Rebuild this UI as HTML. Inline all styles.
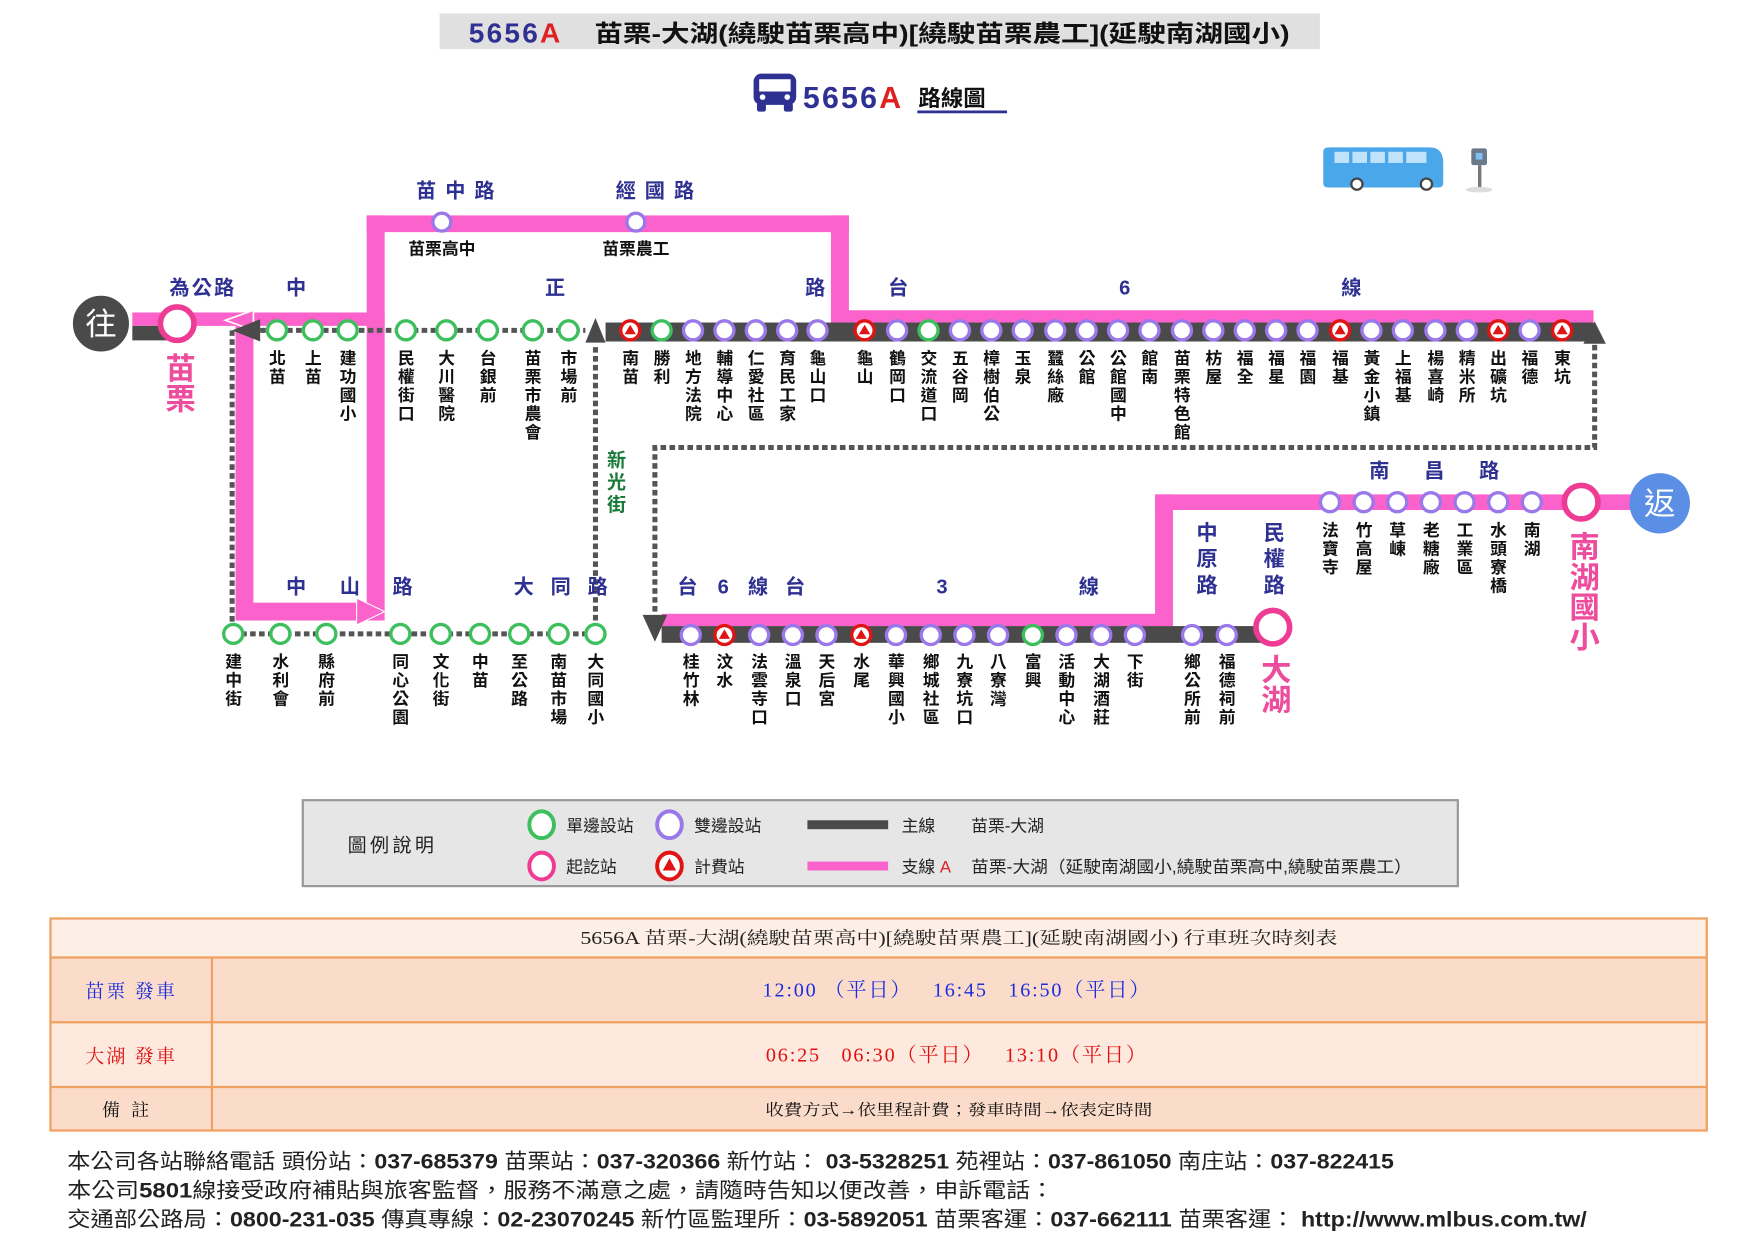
<!DOCTYPE html>
<html><head><meta charset="utf-8">
<style>
html,body{margin:0;padding:0;background:#fff;}
svg{display:block;}
text{font-family:"Liberation Sans","Noto Sans CJK TC",sans-serif;}
.v{writing-mode:vertical-rl;font-size:15px;letter-spacing:1.6px;fill:#111;font-weight:bold;}
.g{fill:#fff;stroke:#3cbf5c;stroke-width:3;}
.p{fill:#fff;stroke:#9a78ea;stroke-width:3;}
.t{fill:#fff;stroke:#e01414;stroke-width:3;}
.tr{fill:#e01414;}
.rd{fill:#2e3192;font-weight:bold;font-size:18px;text-anchor:middle;}
.big{writing-mode:vertical-rl;fill:#ee4c9c;font-size:27px;font-weight:bold;}
.dot{stroke:#555;stroke-width:4.5;stroke-dasharray:5 3;fill:none;}
.pk{fill:#fc62cc;}
.dk{fill:#4a4a4a;}
.serif{font-family:"Liberation Serif","Noto Serif CJK TC","Noto Serif CJK SC",serif;}
</style></head><body>
<svg width="1755" height="1241" viewBox="0 0 1565 1112" preserveAspectRatio="none" xmlns="http://www.w3.org/2000/svg">
<!-- Title -->
<rect x="392" y="12" width="785" height="32" fill="#e0e0e0"/>
<text x="418" y="38" font-size="25" font-weight="bold" fill="#2e3192" letter-spacing="2">5656<tspan fill="#e02020">A</tspan></text>
<text x="530" y="37" font-size="21" font-weight="bold" fill="#111" textLength="620" lengthAdjust="spacingAndGlyphs">苗栗-大湖(繞駛苗栗高中)[繞駛苗栗農工](延駛南湖國小)</text>
<!-- subtitle bus icon -->
<rect x="672" y="66" width="38" height="28" rx="7" fill="#2e3192"/>
<rect x="677" y="71" width="28" height="11" fill="#fff"/>
<rect x="675" y="92" width="8" height="8" rx="2" fill="#2e3192"/>
<rect x="699" y="92" width="8" height="8" rx="2" fill="#2e3192"/>
<circle cx="680" cy="87" r="2.5" fill="#fff"/><circle cx="702" cy="87" r="2.5" fill="#fff"/>
<text x="716" y="97" font-size="27" font-weight="bold" fill="#2e3192" letter-spacing="2">5656<tspan fill="#e02020">A</tspan></text>
<text x="819" y="95" font-size="20" font-weight="bold" fill="#111">路線圖</text>
<rect x="818" y="99" width="80" height="2.5" fill="#2e3192"/>
<!-- top-right bus -->
<path d="M1185 132 h90 q12 0 12 14 v18 q0 4 -4 4 h-99 q-4 0 -4 -4 v-28 q0 -4 5 -4z" fill="#4aa8ea"/>
<rect x="1190" y="136" width="13" height="10" fill="#bfe3fb"/><rect x="1206" y="136" width="13" height="10" fill="#bfe3fb"/><rect x="1222" y="136" width="13" height="10" fill="#bfe3fb"/><rect x="1238" y="136" width="13" height="10" fill="#bfe3fb"/><rect x="1254" y="136" width="18" height="10" fill="#bfe3fb"/>
<circle cx="1210" cy="165" r="5" fill="#fff" stroke="#444" stroke-width="2"/><circle cx="1272" cy="165" r="5" fill="#fff" stroke="#444" stroke-width="2"/>
<rect x="1312" y="133" width="14" height="15" rx="2" fill="#6a7a8a"/><rect x="1316" y="137" width="6" height="6" fill="#7fc0f0"/>
<rect x="1318" y="148" width="3" height="20" fill="#777"/><ellipse cx="1319" cy="170" rx="12" ry="2.5" fill="#ddd"/>

<!-- pink branch -->
<rect class="pk" x="118" y="280" width="225" height="12"/>
<rect class="pk" x="327" y="193" width="430" height="15"/>
<rect class="pk" x="327" y="193" width="16" height="363"/>
<rect class="pk" x="741" y="193" width="16" height="96"/>
<rect class="pk" x="741" y="278" width="680" height="11"/>
<rect class="pk" x="210" y="286" width="16" height="270"/>
<rect class="pk" x="210" y="540" width="115" height="16"/>
<polygon points="318,536 343,548 318,560" fill="#fc62cc" stroke="#fff" stroke-width="1"/>
<polygon points="226,278 201,287 226,296" fill="#fc62cc" stroke="#fff" stroke-width="1.5"/>
<rect class="pk" x="590" y="550" width="456" height="11"/>
<rect class="pk" x="1030" y="443" width="16" height="118"/>
<rect class="pk" x="1030" y="443" width="425" height="14"/>

<!-- dark main -->
<rect class="dk" x="118" y="292" width="42" height="13"/>
<rect class="dk" x="540" y="289" width="881" height="17"/>
<rect class="dk" x="590" y="561" width="545" height="15"/>
<polygon points="531,285 522,307 540,307" fill="#4a4a4a"/>
<polygon points="1422,288 1412,308 1432,308" fill="#4a4a4a"/>
<polygon points="573,551 595,551 584,575" fill="#4a4a4a"/>
<polygon points="207,296 232,286 232,306" fill="#4a4a4a"/>

<!-- dotted -->
<path class="dot" d="M232 296 H522"/>
<path class="dot" d="M207 296 V568 H531 V308"/>
<path class="dot" d="M1422 309 V401 H584 V551"/>

<!-- 往 / 返 -->
<circle cx="90" cy="290" r="26" fill="#4a4a4a" stroke="#fff" stroke-width="2"/>
<text x="90" y="300" font-size="28" fill="#fff" text-anchor="middle">往</text>
<circle cx="1480" cy="451" r="27" fill="#5b8fe6"/>
<text x="1480" y="461" font-size="28" fill="#fff" text-anchor="middle">返</text>
<circle cx="158" cy="290" r="15" fill="#fff" stroke="#ee3c94" stroke-width="5"/>
<circle cx="1135" cy="562" r="15" fill="#fff" stroke="#ee3c94" stroke-width="5"/>
<circle cx="1410" cy="450" r="15" fill="#fff" stroke="#ee3c94" stroke-width="5"/>

<!-- big labels -->
<text class="big" x="158" y="316">苗栗</text>
<text class="big" x="1135" y="586">大湖</text>
<text class="big" x="1410" y="476">南湖國小</text>

<!-- road names -->
<text class="rd" x="410" y="177" letter-spacing="8">苗中路</text>
<text class="rd" x="588" y="177" letter-spacing="8">經國路</text>
<text x="394" y="228" font-size="15" fill="#111" text-anchor="middle" font-weight="bold">苗栗高中</text>
<text x="567" y="228" font-size="15" fill="#111" text-anchor="middle" font-weight="bold">苗栗農工</text>
<text class="rd" x="181" y="264" letter-spacing="2">為公路</text>
<text class="rd" x="264" y="264">中</text>
<text class="rd" x="495" y="264">正</text>
<text class="rd" x="727" y="264">路</text>
<text class="rd" x="801" y="264">台</text>
<text class="rd" x="1003" y="264">6</text>
<text class="rd" x="1205" y="264">線</text>
<text x="548" y="403" style="writing-mode:vertical-rl" font-size="17" font-weight="bold" fill="#1a7a3a" letter-spacing="3">新光街</text>
<text class="rd" x="264" y="532">中</text>
<text class="rd" x="312" y="532">山</text>
<text class="rd" x="359" y="532">路</text>
<text class="rd" x="467" y="532">大</text>
<text class="rd" x="500" y="532">同</text>
<text class="rd" x="533" y="532">路</text>
<text class="rd" x="613" y="532">台</text>
<text class="rd" x="645" y="532">6</text>
<text class="rd" x="676" y="532">線</text>
<text class="rd" x="709" y="532">台</text>
<text class="rd" x="840" y="532">3</text>
<text class="rd" x="971" y="532">線</text>
<text class="rd" x="1230" y="428">南</text>
<text class="rd" x="1279" y="428">昌</text>
<text class="rd" x="1328" y="428">路</text>
<text x="1075" y="467" style="writing-mode:vertical-rl" font-size="19" font-weight="bold" fill="#2e3192" letter-spacing="4.5">中原路</text>
<text x="1135" y="467" style="writing-mode:vertical-rl" font-size="19" font-weight="bold" fill="#2e3192" letter-spacing="4.5">民權路</text>

<!-- top row stations -->
<g>
<circle class="p" cx="394" cy="199" r="8"/><circle class="p" cx="567" cy="199" r="8"/>
<circle class="g" cx="247" cy="296" r="8.5"/><circle class="g" cx="279" cy="296" r="8.5"/><circle class="g" cx="310" cy="296" r="8.5"/>
<circle class="g" cx="362" cy="296" r="8.5"/><circle class="g" cx="398" cy="296" r="8.5"/><circle class="g" cx="435" cy="296" r="8.5"/>
<circle class="g" cx="475" cy="296" r="8.5"/><circle class="g" cx="507" cy="296" r="8.5"/>
<circle class="t" cx="562" cy="296" r="8.5"/><circle class="g" cx="590" cy="296" r="8.5"/>
<circle class="p" cx="618" cy="296" r="8.5"/><circle class="p" cx="646" cy="296" r="8.5"/><circle class="p" cx="674" cy="296" r="8.5"/>
<circle class="p" cx="702" cy="296" r="8.5"/><circle class="p" cx="729" cy="296" r="8.5"/><circle class="t" cx="771" cy="296" r="8.5"/>
<circle class="p" cx="800" cy="296" r="8.5"/><circle class="g" cx="828" cy="296" r="8.5"/><circle class="p" cx="856" cy="296" r="8.5"/>
<circle class="p" cx="884" cy="296" r="8.5"/><circle class="p" cx="912" cy="296" r="8.5"/><circle class="p" cx="941" cy="296" r="8.5"/>
<circle class="p" cx="969" cy="296" r="8.5"/><circle class="p" cx="997" cy="296" r="8.5"/><circle class="p" cx="1025" cy="296" r="8.5"/>
<circle class="p" cx="1054" cy="296" r="8.5"/><circle class="p" cx="1082" cy="296" r="8.5"/><circle class="p" cx="1110" cy="296" r="8.5"/>
<circle class="p" cx="1138" cy="296" r="8.5"/><circle class="p" cx="1166" cy="296" r="8.5"/><circle class="t" cx="1195" cy="296" r="8.5"/>
<circle class="p" cx="1223" cy="296" r="8.5"/><circle class="p" cx="1251" cy="296" r="8.5"/><circle class="p" cx="1280" cy="296" r="8.5"/>
<circle class="p" cx="1308" cy="296" r="8.5"/><circle class="t" cx="1336" cy="296" r="8.5"/><circle class="p" cx="1364" cy="296" r="8.5"/>
<circle class="t" cx="1393" cy="296" r="8.5"/>
<polygon class="tr" points="562,291 557,299.5 567,299.5"/><polygon class="tr" points="771,291 766,299.5 776,299.5"/>
<polygon class="tr" points="1195,291 1190,299.5 1200,299.5"/><polygon class="tr" points="1336,291 1331,299.5 1341,299.5"/>
<polygon class="tr" points="1393,291 1388,299.5 1398,299.5"/>
</g>
<g transform="translate(-1,0)">
<text class="v" x="247" y="313">北苗</text><text class="v" x="279" y="313">上苗</text><text class="v" x="310" y="313">建功國小</text>
<text class="v" x="362" y="313">民權街口</text><text class="v" x="398" y="313">大川醫院</text><text class="v" x="435" y="313">台銀前</text>
<text class="v" x="475" y="313">苗栗市農會</text><text class="v" x="507" y="313">市場前</text>
<text class="v" x="562" y="313">南苗</text><text class="v" x="590" y="313">勝利</text><text class="v" x="618" y="313">地方法院</text>
<text class="v" x="646" y="313">輔導中心</text><text class="v" x="674" y="313">仁愛社區</text><text class="v" x="702" y="313">育民工家</text>
<text class="v" x="729" y="313">龜山口</text><text class="v" x="771" y="313">龜山</text><text class="v" x="800" y="313">鶴岡口</text>
<text class="v" x="828" y="313">交流道口</text><text class="v" x="856" y="313">五谷岡</text><text class="v" x="884" y="313">樟樹伯公</text>
<text class="v" x="912" y="313">玉泉</text><text class="v" x="941" y="313">蠶絲廠</text><text class="v" x="969" y="313">公館</text>
<text class="v" x="997" y="313">公館國中</text><text class="v" x="1025" y="313">館南</text><text class="v" x="1054" y="313">苗栗特色館</text>
<text class="v" x="1082" y="313">枋屋</text><text class="v" x="1110" y="313">福全</text><text class="v" x="1138" y="313">福星</text>
<text class="v" x="1166" y="313">福園</text><text class="v" x="1195" y="313">福基</text><text class="v" x="1223" y="313">黃金小鎮</text>
<text class="v" x="1251" y="313">上福基</text><text class="v" x="1280" y="313">楊喜崎</text><text class="v" x="1308" y="313">精米所</text>
<text class="v" x="1336" y="313">出礦坑</text><text class="v" x="1364" y="313">福德</text><text class="v" x="1393" y="313">東坑</text>
</g>

<!-- bottom rows -->
<g>
<circle class="g" cx="208" cy="568" r="8.5"/><circle class="g" cx="250" cy="568" r="8.5"/><circle class="g" cx="291" cy="568" r="8.5"/>
<circle class="g" cx="357" cy="568" r="8.5"/><circle class="g" cx="393" cy="568" r="8.5"/><circle class="g" cx="428" cy="568" r="8.5"/>
<circle class="g" cx="463" cy="568" r="8.5"/><circle class="g" cx="498" cy="568" r="8.5"/><circle class="g" cx="531" cy="568" r="8.5"/>
<circle class="p" cx="616" cy="569" r="8.5"/><circle class="t" cx="646" cy="569" r="8.5"/><circle class="p" cx="677" cy="569" r="8.5"/>
<circle class="p" cx="707" cy="569" r="8.5"/><circle class="p" cx="737" cy="569" r="8.5"/><circle class="t" cx="768" cy="569" r="8.5"/>
<circle class="p" cx="799" cy="569" r="8.5"/><circle class="p" cx="830" cy="569" r="8.5"/><circle class="p" cx="860" cy="569" r="8.5"/>
<circle class="p" cx="890" cy="569" r="8.5"/><circle class="g" cx="921" cy="569" r="8.5"/><circle class="p" cx="951" cy="569" r="8.5"/>
<circle class="p" cx="982" cy="569" r="8.5"/><circle class="p" cx="1012" cy="569" r="8.5"/><circle class="p" cx="1063" cy="569" r="8.5"/>
<circle class="p" cx="1094" cy="569" r="8.5"/>
<polygon class="tr" points="646,564 641,572.5 651,572.5"/><polygon class="tr" points="768,564 763,572.5 773,572.5"/>
<circle class="p" cx="1186" cy="450" r="8.5"/><circle class="p" cx="1216" cy="450" r="8.5"/><circle class="p" cx="1246" cy="450" r="8.5"/>
<circle class="p" cx="1276" cy="450" r="8.5"/><circle class="p" cx="1306" cy="450" r="8.5"/><circle class="p" cx="1336" cy="450" r="8.5"/>
<circle class="p" cx="1366" cy="450" r="8.5"/>
</g>
<g transform="translate(-1,0)">
<text class="v" x="208" y="585">建中街</text><text class="v" x="250" y="585">水利會</text><text class="v" x="291" y="585">縣府前</text>
<text class="v" x="357" y="585">同心公園</text><text class="v" x="393" y="585">文化街</text><text class="v" x="428" y="585">中苗</text>
<text class="v" x="463" y="585">至公路</text><text class="v" x="498" y="585">南苗市場</text><text class="v" x="531" y="585">大同國小</text>
<text class="v" x="616" y="585">桂竹林</text><text class="v" x="646" y="585">汶水</text><text class="v" x="677" y="585">法雲寺口</text>
<text class="v" x="707" y="585">溫泉口</text><text class="v" x="737" y="585">天后宮</text><text class="v" x="768" y="585">水尾</text>
<text class="v" x="799" y="585">華興國小</text><text class="v" x="830" y="585">鄉城社區</text><text class="v" x="860" y="585">九寮坑口</text>
<text class="v" x="890" y="585">八寮灣</text><text class="v" x="921" y="585">富興</text><text class="v" x="951" y="585">活動中心</text>
<text class="v" x="982" y="585">大湖酒莊</text><text class="v" x="1012" y="585">下街</text><text class="v" x="1063" y="585">鄉公所前</text>
<text class="v" x="1094" y="585">福德祠前</text>
<text class="v" x="1186" y="467">法寶寺</text><text class="v" x="1216" y="467">竹高屋</text><text class="v" x="1246" y="467">草崠</text>
<text class="v" x="1276" y="467">老糖廠</text><text class="v" x="1306" y="467">工業區</text><text class="v" x="1336" y="467">水頭寮橋</text>
<text class="v" x="1366" y="467">南湖</text>
</g>

<!-- legend -->
<rect x="270" y="717" width="1030" height="77" fill="#e6e6e6" stroke="#999" stroke-width="2"/>
<text x="310" y="763" font-size="17" fill="#222" letter-spacing="3">圖例說明</text>
<ellipse cx="483" cy="739" rx="11" ry="12" fill="#fff" stroke="#3cbf5c" stroke-width="3.5"/>
<text x="505" y="745" font-size="15" fill="#222">單邊設站</text>
<ellipse cx="597" cy="739" rx="11" ry="12" fill="#fff" stroke="#9a78ea" stroke-width="3.5"/>
<text x="619" y="745" font-size="15" fill="#222">雙邊設站</text>
<rect x="720" y="735" width="72" height="8" fill="#4a4a4a"/>
<text x="804" y="745" font-size="15" fill="#222">主線</text>
<text x="866" y="745" font-size="15" fill="#222">苗栗-大湖</text>
<ellipse cx="483" cy="776" rx="11" ry="12" fill="#fff" stroke="#ee3c94" stroke-width="3.5"/>
<text x="505" y="782" font-size="15" fill="#222">起訖站</text>
<ellipse cx="597" cy="776" rx="11" ry="12" fill="#fff" stroke="#e01414" stroke-width="3.5"/>
<polygon class="tr" points="597,769 591,780 603,780"/>
<text x="619" y="782" font-size="15" fill="#222">計費站</text>
<rect x="720" y="772" width="72" height="8" fill="#fc62cc"/>
<text x="804" y="782" font-size="15" fill="#222">支線 <tspan fill="#e02020">A</tspan></text>
<text x="866" y="782" font-size="15" fill="#222" textLength="393" lengthAdjust="spacingAndGlyphs">苗栗-大湖（延駛南湖國小,繞駛苗栗高中,繞駛苗栗農工）</text>

<!-- table -->
<rect x="45" y="823" width="1477" height="35" fill="#fdefe6"/>
<rect x="45" y="858" width="1477" height="58" fill="#fbdcca"/>
<rect x="45" y="916" width="1477" height="58" fill="#fde9de"/>
<rect x="45" y="974" width="1477" height="39" fill="#fbdcca"/>
<g stroke="#f0a060" stroke-width="2" fill="none">
<rect x="45" y="823" width="1477" height="190"/>
<line x1="45" y1="858" x2="1522" y2="858"/><line x1="45" y1="916" x2="1522" y2="916"/><line x1="45" y1="974" x2="1522" y2="974"/>
<line x1="189" y1="858" x2="189" y2="1013"/>
</g>
<text class="serif" x="855" y="846" font-size="16" fill="#222" text-anchor="middle" textLength="675" lengthAdjust="spacingAndGlyphs">5656A 苗栗-大湖(繞駛苗栗高中)[繞駛苗栗農工](延駛南湖國小)  行車班次時刻表</text>
<text class="serif" x="117" y="894" font-size="17" fill="#1a2ee0" text-anchor="middle" letter-spacing="2">苗栗 發車</text>
<text class="serif" xml:space="preserve" x="680" y="893" font-size="18" fill="#1a2ee0" textLength="345" lengthAdjust="spacing">12:00 （平日）   16:45   16:50（平日）</text>
<text class="serif" x="117" y="952" font-size="17" fill="#e01010" text-anchor="middle" letter-spacing="2">大湖 發車</text>
<text class="serif" xml:space="preserve" x="683" y="951" font-size="18" fill="#e01010" textLength="339" lengthAdjust="spacing">06:25   06:30（平日）   13:10（平日）</text>
<text class="serif" x="117" y="1000" font-size="16" fill="#111" text-anchor="middle" letter-spacing="10">備註</text>
<text class="serif" x="855" y="999" font-size="14" fill="#111" text-anchor="middle" textLength="345" lengthAdjust="spacingAndGlyphs">收費方式→依里程計費；發車時間→依表定時間</text>

<!-- footer -->
<text x="60" y="1047" font-size="19" fill="#222" textLength="1183" lengthAdjust="spacingAndGlyphs">本公司各站聯絡電話 頭份站：<tspan font-weight="bold">037-685379</tspan> 苗栗站：<tspan font-weight="bold">037-320366</tspan> 新竹站： <tspan font-weight="bold">03-5328251</tspan> 苑裡站：<tspan font-weight="bold">037-861050</tspan> 南庄站：<tspan font-weight="bold">037-822415</tspan></text>
<text x="60" y="1073" font-size="19" fill="#222" textLength="880" lengthAdjust="spacingAndGlyphs">本公司<tspan font-weight="bold">5801</tspan>線接受政府補貼與旅客監督，服務不滿意之處，請隨時告知以便改善，申訴電話：</text>
<text x="60" y="1099" font-size="19" fill="#222" textLength="1355" lengthAdjust="spacingAndGlyphs">交通部公路局：<tspan font-weight="bold">0800-231-035</tspan> 傳真專線：<tspan font-weight="bold">02-23070245</tspan> 新竹區監理所：<tspan font-weight="bold">03-5892051</tspan> 苗栗客運：<tspan font-weight="bold">037-662111</tspan> 苗栗客運： <tspan font-weight="bold">http://www.mlbus.com.tw/</tspan></text>
</svg>
</body></html>
